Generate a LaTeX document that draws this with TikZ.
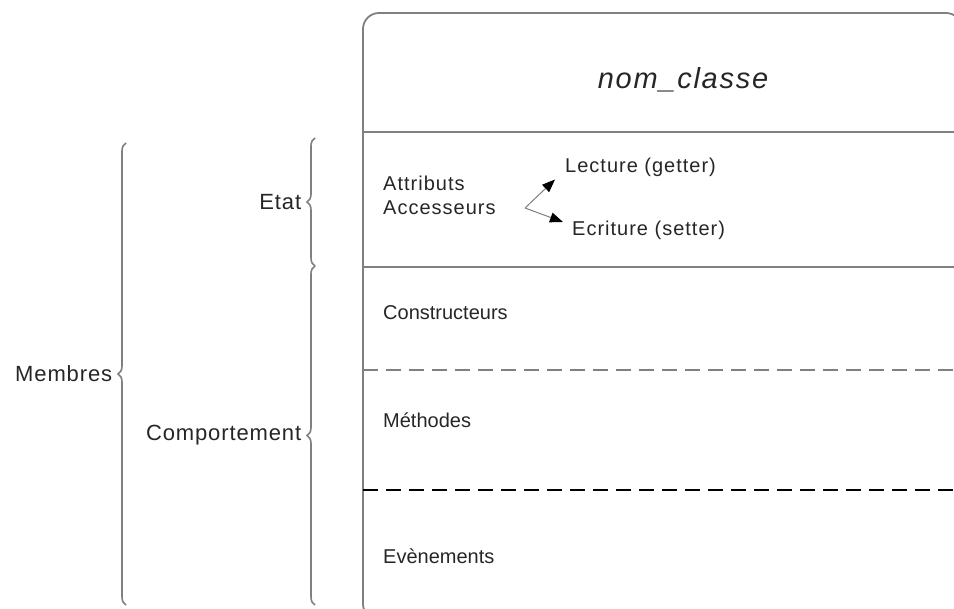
\documentclass[tikz,border=0pt]{standalone}
\usepackage{fontspec}
\setmainfont{Liberation Sans}
\usetikzlibrary{decorations.pathreplacing}
\usetikzlibrary{arrows.meta}

\begin{document}
\begin{tikzpicture}[x=1pt, y=-1pt,
  frame/.style={draw=gray, line width=1.8pt},
  brace/.style={draw=gray, line width=1.6pt, decorate, decoration={brace, amplitude=8pt}},
  part/.style={font=\fontsize{20}{24}\selectfont, text=black!85, inner sep=0pt, anchor=west},
  access/.style={part, font=\fontsize{20}{24}\selectfont\addfontfeature{LetterSpace=5}},
  side/.style={font=\fontsize{22}{26}\selectfont\addfontfeature{LetterSpace=4}, text=black!85, inner sep=0pt},
  accessor/.style={draw=gray, line width=1pt, -{Triangle[length=13pt, width=10pt, black]}}]

  \useasboundingbox (0,0) rectangle (954,609);

  % class box
  \begin{scope}
    \clip (0,0) rectangle (954,609);
    \draw[frame, rounded corners=16pt] (363,13) rectangle (962,620);
  \end{scope}

  % separators
  \draw[frame] (363,132) -- (954,132);
  \draw[frame] (363,267) -- (954,267);
  \draw[frame, dash pattern=on 15pt off 8pt] (363,370) -- (954,370);
  \draw[frame, draw=black, dash pattern=on 15pt off 8pt] (363,490) -- (954,490);

  % class name
  \node[font=\fontsize{29}{34}\selectfont\itshape\addfontfeature{LetterSpace=6}, text=black!85] (classname) at (683,80) {nom\_classe};

  % sections
  \node[access] (attributs) at (383,183) {Attributs};
  \node[access] (accesseurs) at (383,208) {Accesseurs};
  \node[access] (getter) at (565,167) {Lecture (getter)};
  \node[access] (setter) at (572,230) {Ecriture (setter)};
  \node[part] (constructeurs) at (383,313) {Constructeurs};
  \node[part] (methodes) at (383,420) {Méthodes};
  \node[part] (evenements) at (383,556) {Evènements};

  % getter, setter
  \coordinate (fork) at (525,208);
  \draw[accessor] (fork) -- ([xshift=-10pt, yshift=-3pt]getter.south west);
  \draw[accessor] (fork) -- ([xshift=-9pt, yshift=8pt]setter.west);

  % braces
  \draw[brace] (126,605) -- node[side, left=13pt] (membres) {Membres} (126,143);
  \draw[brace] (315,266) -- node[side, left=13pt] (etat) {Etat} (315,138);
  \draw[brace] (315,605) -- node[side, left=13pt] (comportement) {Comportement} (315,266);
\end{tikzpicture}
\end{document}
